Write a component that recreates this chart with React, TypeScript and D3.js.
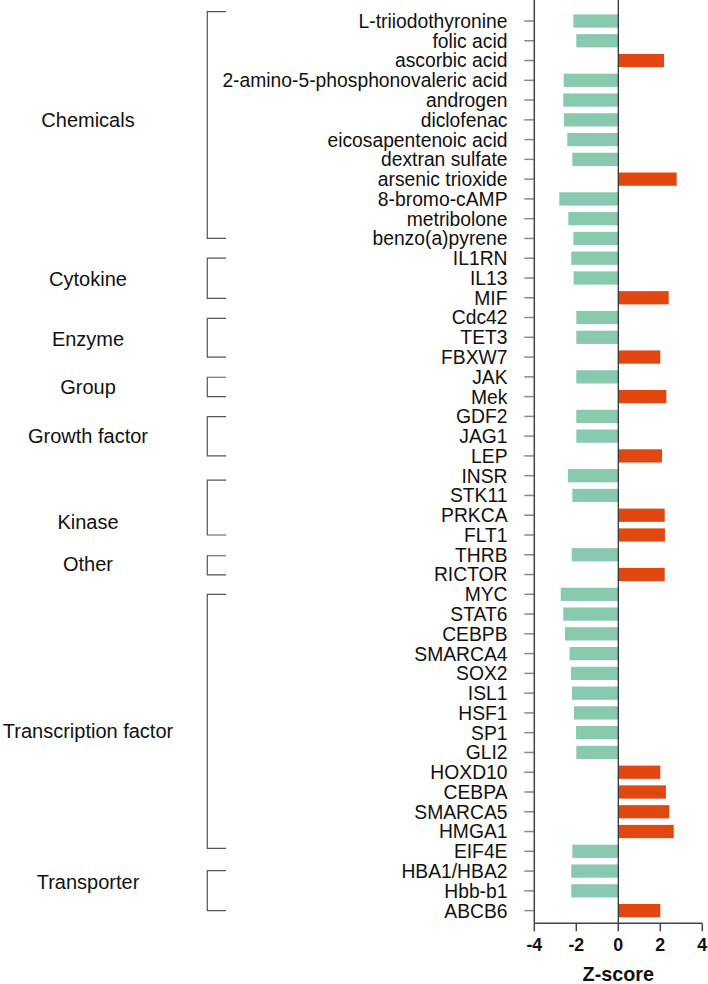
import React from "react";
import * as d3 from "d3";

const items = [
  "L-triiodothyronine", "folic acid", "ascorbic acid", "2-amino-5-phosphonovaleric acid",
  "androgen", "diclofenac", "eicosapentenoic acid", "dextran sulfate", "arsenic trioxide",
  "8-bromo-cAMP", "metribolone", "benzo(a)pyrene",
  "IL1RN", "IL13", "MIF",
  "Cdc42", "TET3", "FBXW7",
  "JAK", "Mek",
  "GDF2", "JAG1", "LEP",
  "INSR", "STK11", "PRKCA", "FLT1",
  "THRB", "RICTOR",
  "MYC", "STAT6", "CEBPB", "SMARCA4", "SOX2", "ISL1", "HSF1", "SP1", "GLI2",
  "HOXD10", "CEBPA", "SMARCA5", "HMGA1",
  "EIF4E", "HBA1/HBA2", "Hbb-b1", "ABCB6",
];

const zscores = [
  -2.14, -2.0, 2.18, -2.6,
  -2.62, -2.59, -2.43, -2.19, 2.78,
  -2.81, -2.38, -2.14,
  -2.24, -2.13, 2.4,
  -2.0, -2.0, 2.0,
  -2.0, 2.29,
  -2.0, -2.0, 2.08,
  -2.4, -2.19, 2.21, 2.22,
  -2.22, 2.21,
  -2.74, -2.62, -2.54, -2.32, -2.25, -2.21, -2.11, -2.01, -2.0,
  2.0, 2.27, 2.43, 2.64,
  -2.19, -2.24, -2.24, 2.0,
];

// group names, bracket extents and label position in row units
const groupNames = ["Chemicals", "Cytokine", "Enzyme", "Group", "Growth factor", "Kinase", "Other", "Transcription factor", "Transporter"];
const bracketTop = [-0.47, 12, 15.04, 18.02, 20.01, 23.22, 27.05, 29, 42.98];
const bracketBottom = [11, 14.03, 17, 19, 22, 26, 28.02, 41.85, 45];
const labelRow = [4.98, 13.05, 16.07, 18.49, 20.96, 25.34, 27.45, 35.88, 43.55];

const xTicks = [-4, -2, 0, 2, 4];

const W = 708;
const H = 984;

export default function App() {
  const x = d3.scaleLinear().domain([-4, 4]).range([534.3, 702.3]);
  const y = d3.scaleBand<string>().domain(items).range([11.1, 920.5]).paddingInner(0).paddingOuter(0);
  const bw = y.bandwidth();
  const barH = bw * 0.67;
  const rowY = d3.scaleLinear().domain([0, items.length - 1]).range([11.1 + bw / 2, 920.5 - bw / 2]);
  const axisY = 923.3;
  const font = "'Liberation Sans', Arial, Helvetica, sans-serif";
  const green = "#88c9b0";
  const red = "#e2470f";

  return (
    <svg width={W} height={H} style={{ position: "absolute", left: 0, top: 0, background: "#fff" }} fontFamily={font}>
      {/* bars */}
      {items.map((name, i) => {
        const v = zscores[i];
        const cy = (y(name) as number) + bw / 2;
        return (
          <rect
            key={name}
            x={Math.min(x(0), x(v))}
            y={cy - barH / 2}
            width={Math.abs(x(v) - x(0))}
            height={barH}
            fill={v < 0 ? green : red}
          />
        );
      })}
      {/* item labels and y ticks */}
      {items.map((name) => {
        const cy = (y(name) as number) + bw / 2;
        return (
          <g key={"l" + name}>
            <line x1={x(-4) - 10} x2={x(-4)} y1={cy} y2={cy} stroke="#8a8a8a" strokeWidth={1.5} />
            <text x={507.5} y={cy} dy="0.36em" textAnchor="end" fontSize={19.3} fill="#111">
              {name}
            </text>
          </g>
        );
      })}
      {/* y axis line */}
      <line x1={x(-4)} x2={x(-4)} y1={0} y2={axisY} stroke="#444" strokeWidth={1.5} />
      {/* zero line */}
      <line x1={x(0)} x2={x(0)} y1={0} y2={axisY} stroke="#333" strokeWidth={1.3} />
      {/* x axis */}
      <line x1={x(-4)} x2={x(4)} y1={axisY} y2={axisY} stroke="#444" strokeWidth={1.5} />
      {xTicks.map((t) => (
        <g key={"t" + t}>
          <line x1={x(t)} x2={x(t)} y1={axisY} y2={axisY + 8} stroke="#444" strokeWidth={1.5} />
          <text x={x(t)} y={950.7} textAnchor="middle" fontSize={17.8} fontWeight="bold" fill="#111">
            {t}
          </text>
        </g>
      ))}
      <text x={x(0)} y={980.5} textAnchor="middle" fontSize={19.8} fontWeight="bold" fill="#111">
        Z-score
      </text>
      {/* group brackets */}
      {groupNames.map((g, i) => {
        const t = rowY(bracketTop[i]);
        const b = rowY(bracketBottom[i]);
        return (
          <g key={"g" + g}>
            <path
              d={`M226,${t} H207.3 V${b} H226`}
              fill="none"
              stroke="#555"
              strokeWidth={1.2}
            />
            <text x={88} y={rowY(labelRow[i])} dy="0.36em" textAnchor="middle" fontSize={20} fill="#111">
              {g}
            </text>
          </g>
        );
      })}
    </svg>
  );
}
